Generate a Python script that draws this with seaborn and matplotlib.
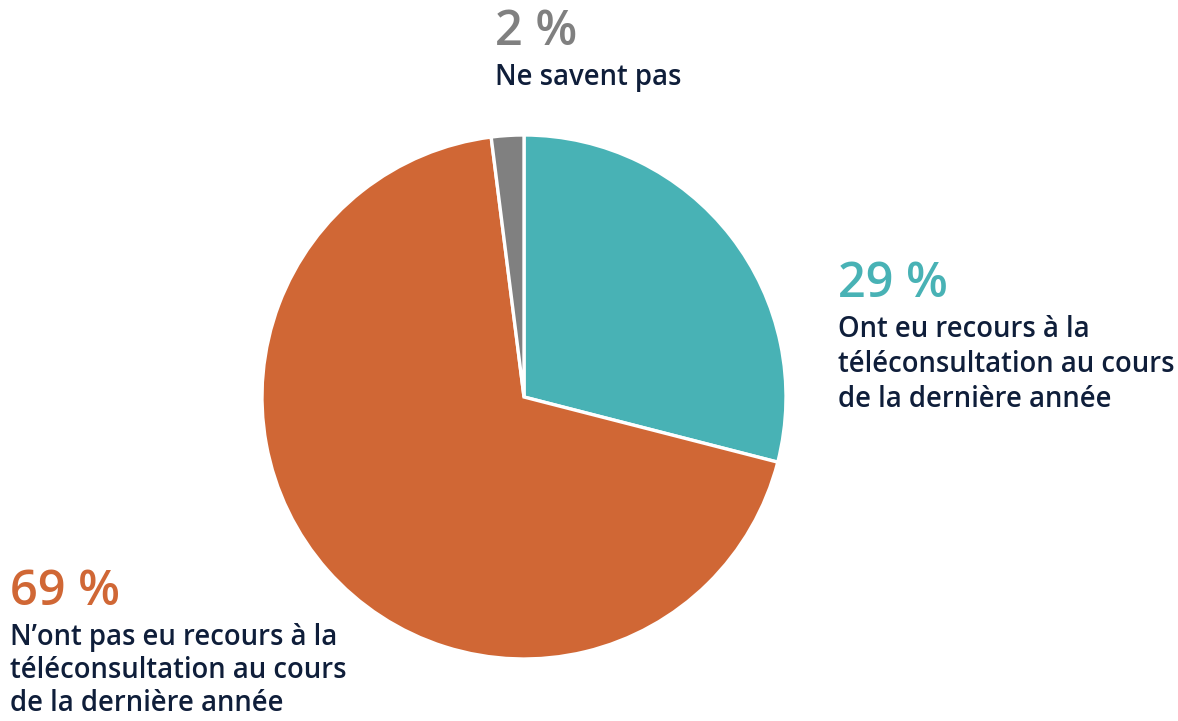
import matplotlib
matplotlib.use("Agg")
import matplotlib.pyplot as plt
import seaborn as sns

# data
categories = ["Ont eu recours à la\ntéléconsultation au cours\nde la dernière année",
              "N\u2019ont pas eu recours à la\ntéléconsultation au cours\nde la dernière année",
              "Ne savent pas"]
values = [29, 69, 2]
pct_labels = ["29 %", "69 %", "2 %"]
colors = ["#48B2B5", "#D06735", "#808080"]
navy = "#0F1E3A"

sns.set_theme(style="white")
plt.rcParams['font.family'] = ['Open Sans', 'DejaVu Sans']

W, H = 1178, 721
fig = plt.figure(figsize=(W / 100, H / 100), dpi=100)
fig.patch.set_facecolor("white")

# pie axes: centre (524, 397), radius 262 px
ax = fig.add_axes([262 / W, 62 / H, 524 / W, 524 / H])
ax.pie(values, colors=colors, startangle=90, counterclock=False,
       wedgeprops=dict(edgecolor="white", linewidth=2.4), radius=1.0)
ax.set_xlim(-1, 1)
ax.set_ylim(-1, 1)
ax.set_aspect("equal")
ax.axis("off")

# label positions (px, left x, baseline of percentage)
pos = [(838, 297), (10, 605), (495, 45)]
gaps = [35, 33, 40]
for (x, y), gap, pct, lab, c in zip(pos, gaps, pct_labels, categories, colors):
    fig.text(x / W, 1 - y / H, pct, color=c, fontsize=35, fontweight=600,
             ha="left", va="baseline")
    for i, line in enumerate(lab.split("\n")):
        fig.text(x / W, 1 - (y + 40 + i * gap) / H, line, color=navy,
                 fontsize=19.8, fontweight=600, ha="left", va="baseline")

fig.savefig("out.png", dpi=100, facecolor="white")
